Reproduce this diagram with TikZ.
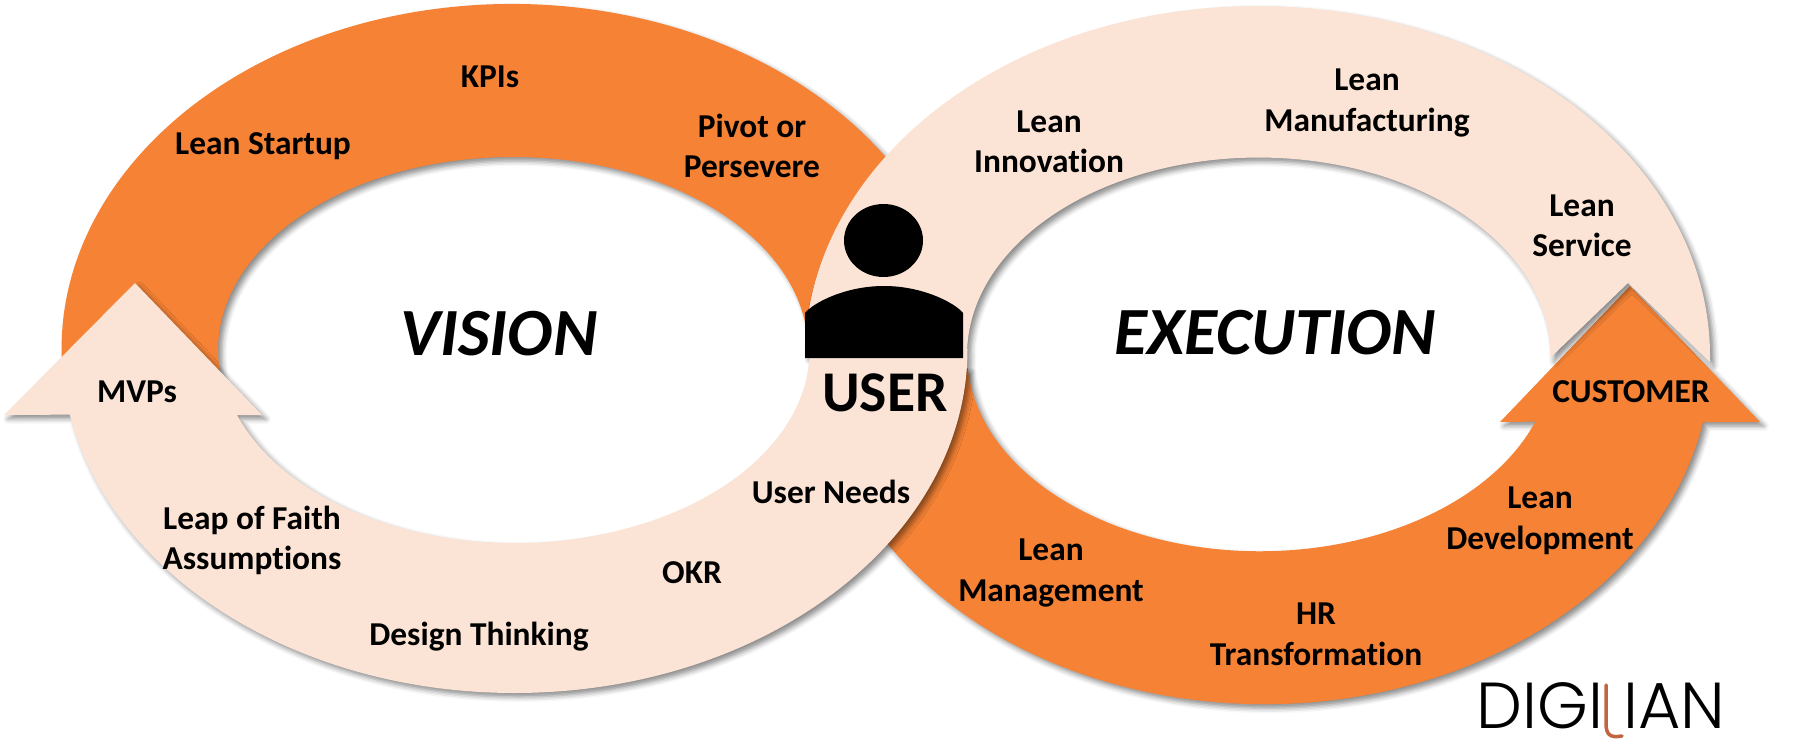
\documentclass[tikz,border=0pt]{standalone}
\usepackage{fontspec}
\setmainfont[Ligatures=NoCommon]{Carlito}
\newfontfamily\logofont{Poppins Light}
\usetikzlibrary{shadows.blur}
\definecolor{bandorange}{HTML}{F58235}
\definecolor{bandpeach}{HTML}{FBE4D5}
\definecolor{logoclay}{HTML}{C0653E}
\tikzset{
  softshadow/.style={blur shadow={shadow xshift=.04cm,shadow yshift=-.04cm,shadow blur radius=.05cm,shadow opacity=45}},
  lbl/.style={inner sep=0pt,align=center,font=\fontsize{9.5}{11.5}\selectfont\bfseries},
  bigword/.style={inner sep=0pt,font=\fontsize{19.2}{21}\selectfont\bfseries\itshape},
  logotxt/.style={inner sep=0pt,font=\fontsize{18.5}{20}\logofont}
}
\begin{document}
\begin{tikzpicture}
    \useasboundingbox (0,0) rectangle (18.07,7.47);
    % upper half of the left ring
    \fill[bandorange,softshadow] (0.65,3.56) arc[start angle=187,end angle=20,x radius=4.50,y radius=3.45]
      -- (8.08,3.97) arc[start angle=0,end angle=190,x radius=2.95,y radius=1.93] -- cycle;
    % lower half of the right ring with its arrow
    \fill[bandorange,softshadow] (16.30,4.61) -- (17.60,3.25) -- (17.03,3.25)
      arc[start angle=-10.9,end angle=-175,x radius=4.47,y radius=3.48]
      -- (9.677,3.79) arc[start angle=184,end angle=340,x radius=2.93,y radius=1.97]
      -- (15.00,3.25) -- cycle;
    % the one pale band through the middle
    \fill[bandpeach,softshadow] (1.35,4.64) -- (2.62,3.32) -- (2.37,3.32)
      arc[start angle=199.7,end angle=360,x radius=2.95,y radius=1.93]
      -- (8.05,3.91) arc[start angle=180,end angle=-1,x radius=4.525,y radius=3.5]
      -- (16.28,4.64) -- (15.50,3.89)
      arc[start angle=-1,end angle=180,x radius=2.915,y radius=1.97]
      -- (9.675,3.98) arc[start angle=0,end angle=-169,x radius=4.53,y radius=3.44]
      -- (0.04,3.32) -- cycle;
    % user figure
    \fill (8.835,5.065) ellipse[x radius=.395,y radius=.365];
    \fill (8.05,3.89) -- (8.05,4.34) .. controls (8.13,4.44) and (8.45,4.61) .. (8.84,4.61)
      .. controls (9.23,4.61) and (9.55,4.44) .. (9.63,4.34) -- (9.63,3.89) -- cycle;
    \node[lbl] (kpis) at (4.90,6.70) {KPIs};
    \node[lbl] (startup) at (2.63,6.01) {Lean Startup};
    \node[lbl] (pivot) at (7.52,6.01) {Pivot or\\Persevere};
    \node[lbl] (innovation) at (10.49,6.05) {Lean\\Innovation};
    \node[lbl] (manufacturing) at (13.67,6.44) {Lean\\Manufacturing};
    \node[lbl] (service) at (15.82,5.21) {Lean\\Service};
    \node[lbl] (mvps) at (1.37,3.555) {MVPs};
    \node[lbl] (customer) at (16.31,3.555) {CUSTOMER};
    \node[lbl] (needs) at (8.31,2.55) {User Needs};
    \node[lbl] (okr) at (6.92,1.74) {OKR};
    \node[lbl] (leap) at (2.52,2.065) {Leap of Faith\\Assumptions};
    \node[lbl] (design) at (4.79,1.10) {Design Thinking};
    \node[lbl] (development) at (15.40,2.26) {Lean\\Development};
    \node[lbl] (management) at (10.51,1.74) {Lean\\Management};
    \node[lbl] (hr) at (13.16,1.125) {HR\\Transformation};
    \node[bigword] (vision) at (4.99,4.13) {VISION};
    \node[bigword] (execution) at (12.75,4.14) {EXECUTION};
    \node[inner sep=0pt,font=\fontsize{16.4}{18}\selectfont\bfseries] (user) at (8.85,3.545) {USER};
    % logo
    \node[logotxt,anchor=base west] (logoleft) at (14.76,.19) {DIGI};
    \node[logotxt,anchor=base east] (logoright) at (17.26,.19) {IAN};
    \draw[logoclay,line width=.035cm,line cap=round] (16.06,.62) -- (16.06,.24)
      .. controls (16.06,.12) and (16.10,.09) .. (16.22,.11);
\end{tikzpicture}
\end{document}
